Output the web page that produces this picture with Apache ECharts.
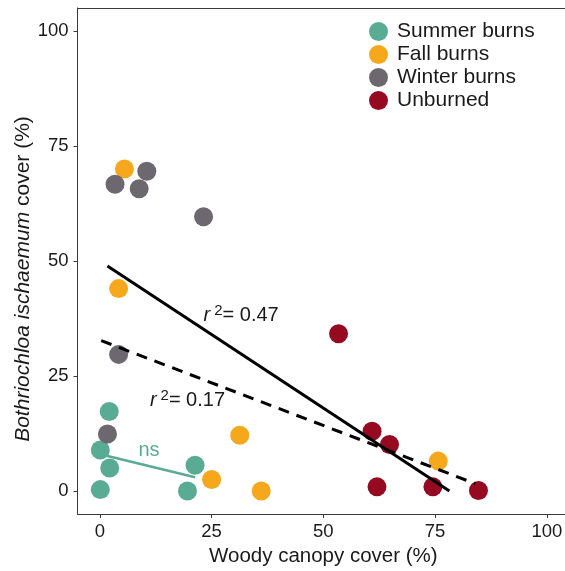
<!DOCTYPE html>
<html>
<head>
<meta charset="utf-8">
<script src="https://cdn.jsdelivr.net/npm/echarts@6/dist/echarts.min.js"></script>
<style>html,body{margin:0;padding:0;background:#fff}#c{width:565px;height:571px}</style>
</head>
<body>
<div id="c"></div>
<script>
// ---- data ----
const summerBurns = [[0.1,0.3],[2.2,5.0],[0.1,8.9],[2.1,17.3],[19.6,0.0],[21.3,5.6]];
const fallBurns   = [[5.5,70.0],[4.2,44.0],[31.3,12.1],[25.0,2.5],[36.1,0.0],[75.7,6.5]];
const winterBurns = [[3.4,66.7],[8.8,65.7],[10.5,69.5],[23.2,59.6],[4.2,29.7],[1.7,12.4]];
const unburned    = [[53.4,34.2],[60.9,13.0],[64.8,10.1],[62.0,0.9],[74.5,0.9],[84.7,0.1]];
const fitSolid  = [[1.7,48.9],[78.2,0.0]];
const fitDashed = [[0.3,32.7],[84.0,1.6]];
const fitNs     = [[0.1,8.0],[21.3,3.0]];
const xTicks = [0,25,50,75,100];
const yTicks = [0,25,50,75,100];
const annotR47 = [31.6,38.1];
const annotR17 = [19.6,19.6];
const annotNs  = [11.0,8.8];
const seriesNames = ['Summer burns','Fall burns','Winter burns','Unburned'];
const colors = ['#5aab94','#f6a81c','#6d686f','#950a20'];

const FONT = "'Liberation Sans', Arial, sans-serif";
const chart = echarts.init(document.getElementById('c'), null, {renderer:'canvas'});

function scatter(name, data, color){
  return {name, type:'scatter', data, symbol:'circle', symbolSize:19, z:2,
    itemStyle:{color, opacity:1}, emphasis:{disabled:true}};
}
function rText(val){
  return '{i|r}{s|2}{n|= ' + val + '}';
}
const rRich = {
  i:{fontSize:20, fontStyle:'italic', color:'#1a1a1a', fontFamily:FONT},
  s:{fontSize:15, color:'#1a1a1a', fontFamily:FONT, padding:[0,0,9,4]},
  n:{fontSize:20, color:'#1a1a1a', fontFamily:FONT}
};
function annot(pt, formatter, rich, color){
  return {type:'scatter', data:[pt], symbolSize:0, silent:true, z:5,
    itemStyle:{opacity:1},
    label:{show:true, position:'inside', formatter, rich, color, fontSize:20, fontFamily:FONT, opacity:1},
    emphasis:{disabled:true}};
}
const axisLineStyle = {color:'#3a3a3a', width:1};

const option = {
  backgroundColor:'#fff',
  animation:false,
  textStyle:{fontFamily:FONT},
  grid:{left:77.5, top:8, width:491.7, height:506, show:false,
    containLabel:false, outerBoundsMode:'none'},
  legend:{
    data:seriesNames, orient:'vertical', left:364, top:16,
    itemWidth:19, itemHeight:19, itemGap:2, icon:'circle',
    textStyle:{fontSize:21, color:'#1a1a1a', fontFamily:FONT, padding:[0,0,0,4]}
  },
  xAxis:[{
    type:'value', min:-5, max:105,
    name:'Woody canopy cover (%)', nameLocation:'middle', nameGap:26,
    nameTextStyle:{fontSize:20.5, color:'#1a1a1a', fontFamily:FONT},
    axisLine:{show:true, onZero:false, lineStyle:axisLineStyle},
    axisTick:{show:true, length:4, customValues:xTicks, lineStyle:{color:'#3a3a3a'}},
    axisLabel:{customValues:xTicks, fontSize:18.5, color:'#1a1a1a', margin:8, fontFamily:FONT},
    splitLine:{show:false}
  },{
    type:'value', min:-5, max:105, position:'top',
    axisLine:{show:true, onZero:false, lineStyle:axisLineStyle},
    axisTick:{show:false}, axisLabel:{show:false}, splitLine:{show:false}
  }],
  yAxis:{
    type:'value', min:-5, max:105,
    axisLine:{show:true, onZero:false, lineStyle:axisLineStyle},
    axisTick:{show:true, length:4, customValues:yTicks, lineStyle:{color:'#3a3a3a'}},
    axisLabel:{customValues:yTicks, fontSize:18.5, color:'#1a1a1a', margin:9, fontFamily:FONT},
    splitLine:{show:false}
  },
  graphic:[{
    type:'text', x:23, y:279, rotation:Math.PI/2,
    style:{
      text:'{it|Bothriochloa ischaemum}{n| cover (%)}',
      rich:{
        it:{fontSize:21, fontStyle:'italic', fill:'#1a1a1a', fontFamily:FONT},
        n:{fontSize:21, fill:'#1a1a1a', fontFamily:FONT}
      },
      align:'center', verticalAlign:'middle'
    }
  }],
  series:[
    scatter(seriesNames[0], summerBurns, colors[0]),
    scatter(seriesNames[1], fallBurns, colors[1]),
    scatter(seriesNames[2], winterBurns, colors[2]),
    scatter(seriesNames[3], unburned, colors[3]),
    {type:'line', data:fitSolid, symbol:'none', z:4, silent:true,
      lineStyle:{color:'#000', width:3, type:'solid'}},
    {type:'line', data:fitDashed, symbol:'none', z:4, silent:true,
      lineStyle:{color:'#000', width:3, type:[11,8]}},
    {type:'line', data:fitNs, symbol:'none', z:4, silent:true,
      lineStyle:{color:colors[0], width:2.5}},
    annot(annotR47, rText('0.47'), rRich, '#1a1a1a'),
    annot(annotR17, rText('0.17'), rRich, '#1a1a1a'),
    annot(annotNs, 'ns', null, colors[0])
  ]
};
chart.setOption(option);
</script>
</body>
</html>
